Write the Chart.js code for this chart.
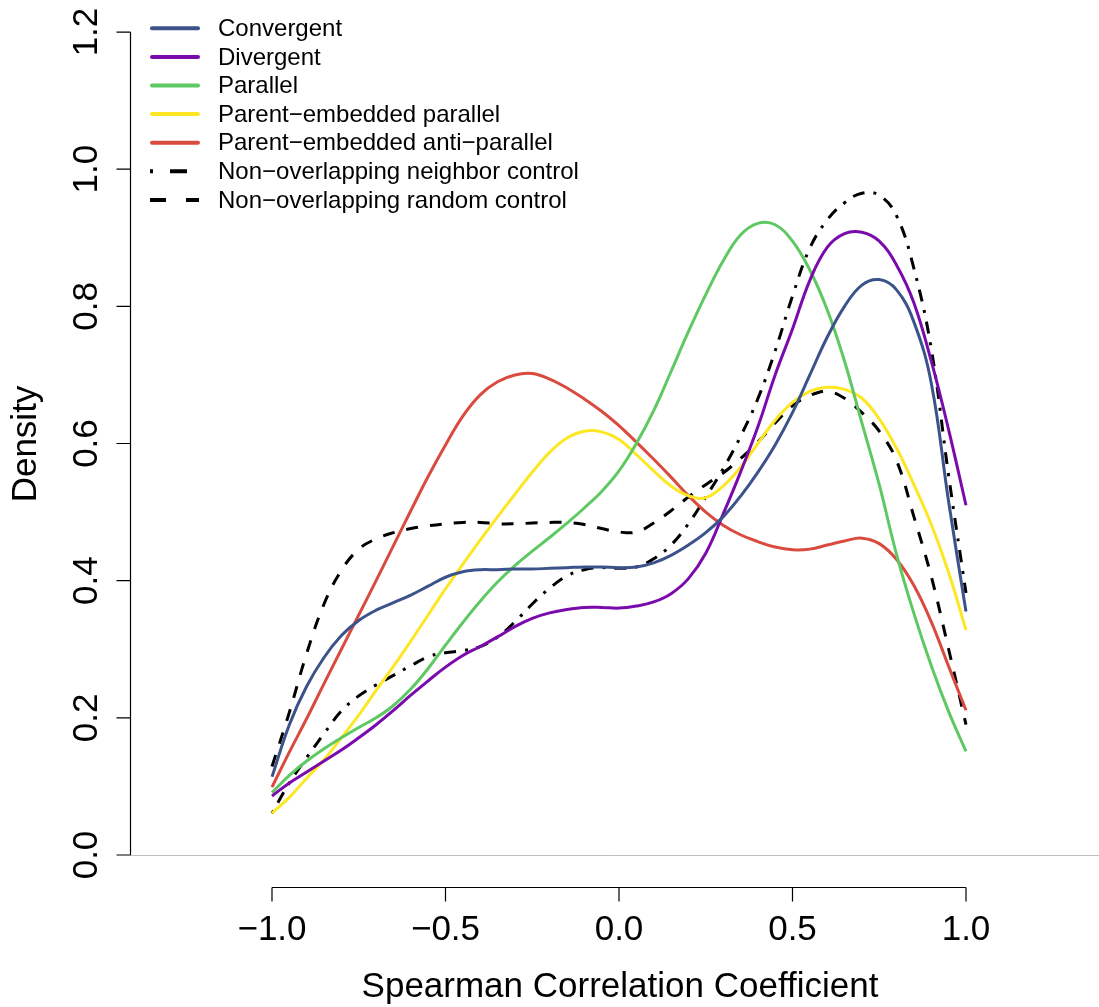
<!DOCTYPE html>
<html>
<head>
<meta charset="utf-8">
<title>Spearman correlation density</title>
<script src="https://cdn.jsdelivr.net/npm/chart.js@4.4.1/dist/chart.umd.min.js"></script>
<style>
  html, body { margin: 0; padding: 0; background: #ffffff; }
  #wrap { width: 1099px; height: 1007px; }
</style>
</head>
<body>
<div id="wrap"><canvas id="chart" width="1099" height="1007"></canvas></div>
<script>
// Evaluation grid of the Spearman coefficient (x axis)
const xGrid = [
  -1.00, -0.95, -0.90, -0.85, -0.80, -0.75, -0.70, -0.65, -0.60, -0.55,
  -0.50, -0.45, -0.40, -0.35, -0.30, -0.25, -0.20, -0.15, -0.10, -0.05,
   0.00,  0.05,  0.10,  0.15,  0.20,  0.25,  0.30,  0.35,  0.40,  0.45,
   0.50,  0.55,  0.60,  0.65,  0.70,  0.75,  0.80,  0.85,  0.90,  0.95, 1.00
];

// Kernel density estimates per gene-pair orientation
const convergent = [
  0.114, 0.190, 0.246, 0.288, 0.320, 0.342, 0.357, 0.368, 0.379, 0.392,
  0.405, 0.413, 0.416, 0.416, 0.417, 0.417, 0.418, 0.419, 0.420, 0.420,
  0.419, 0.420, 0.426, 0.437, 0.452, 0.470, 0.493, 0.523, 0.558, 0.598,
  0.645, 0.700, 0.755, 0.800, 0.831, 0.839, 0.824, 0.777, 0.688, 0.515, 0.355
];
const divergent = [
  0.086, 0.105, 0.121, 0.137, 0.153, 0.171, 0.190, 0.211, 0.233, 0.254,
  0.274, 0.291, 0.304, 0.318, 0.333, 0.345, 0.353, 0.358, 0.361, 0.361,
  0.360, 0.363, 0.369, 0.381, 0.403, 0.440, 0.497, 0.558, 0.624, 0.700,
  0.767, 0.838, 0.886, 0.906, 0.908, 0.895, 0.860, 0.805, 0.720, 0.620, 0.510
];
const parallel = [
  0.091, 0.116, 0.137, 0.155, 0.171, 0.186, 0.200, 0.218, 0.242, 0.272,
  0.306, 0.339, 0.370, 0.398, 0.422, 0.443, 0.463, 0.484, 0.506, 0.530,
  0.560, 0.600, 0.648, 0.705, 0.763, 0.817, 0.866, 0.904, 0.921, 0.919,
  0.895, 0.853, 0.795, 0.720, 0.630, 0.540, 0.438, 0.352, 0.276, 0.209, 0.151
];
const parentParallel = [
  0.061, 0.084, 0.112, 0.139, 0.171, 0.204, 0.240, 0.275, 0.312, 0.350,
  0.388, 0.424, 0.459, 0.493, 0.526, 0.558, 0.587, 0.608, 0.618, 0.617,
  0.606, 0.584, 0.560, 0.538, 0.524, 0.521, 0.538, 0.565, 0.600, 0.634,
  0.660, 0.676, 0.682, 0.679, 0.666, 0.636, 0.593, 0.540, 0.482, 0.412, 0.328
];
const parentAntiParallel = [
  0.099, 0.150, 0.199, 0.250, 0.300, 0.350, 0.400, 0.451, 0.502, 0.552,
  0.598, 0.640, 0.671, 0.690, 0.700, 0.702, 0.694, 0.681, 0.665, 0.647,
  0.626, 0.602, 0.577, 0.551, 0.524, 0.500, 0.481, 0.467, 0.457, 0.449,
  0.445, 0.446, 0.452, 0.458, 0.462, 0.454, 0.431, 0.393, 0.340, 0.275, 0.211
];
const neighborControl = [
  0.061, 0.105, 0.142, 0.177, 0.210, 0.232, 0.248, 0.262, 0.276, 0.289,
  0.295, 0.298, 0.304, 0.318, 0.340, 0.366, 0.389, 0.407, 0.416, 0.419,
  0.418, 0.420, 0.432, 0.452, 0.483, 0.522, 0.563, 0.610, 0.665, 0.735,
  0.815, 0.885, 0.926, 0.951, 0.965, 0.962, 0.932, 0.855, 0.738, 0.553, 0.382
];
const randomControl = [
  0.129, 0.208, 0.294, 0.366, 0.415, 0.446, 0.461, 0.470, 0.476, 0.480,
  0.483, 0.485, 0.485, 0.483, 0.483, 0.484, 0.485, 0.485, 0.482, 0.476,
  0.471, 0.471, 0.484, 0.502, 0.522, 0.540, 0.557, 0.578, 0.602, 0.630,
  0.655, 0.670, 0.676, 0.666, 0.645, 0.618, 0.575, 0.493, 0.406, 0.300, 0.190
];

const seriesLabels = [
  'Convergent', 'Divergent', 'Parallel', 'Parent\u2212embedded parallel',
  'Parent\u2212embedded anti\u2212parallel', 'Non\u2212overlapping neighbor control',
  'Non\u2212overlapping random control'
];
const seriesValues = [convergent, divergent, parallel, parentParallel,
  parentAntiParallel, neighborControl, randomControl];
const seriesColors = ['#3B528B', '#7A0AAB', '#5EC962', '#FDE725', '#D94B3F', '#000000', '#000000'];
const seriesDashes = [[], [], [], [], [], [3, 9, 12, 9], [12, 12]];
const legendDashes = [[], [], [], [], [], [3, 17, 17, 20], [16, 20]];

const xTickValues = [-1.0, -0.5, 0.0, 0.5, 1.0];
const xTickLabels = ['\u22121.0', '\u22120.5', '0.0', '0.5', '1.0'];
const yTickValues = [0.0, 0.2, 0.4, 0.6, 0.8, 1.0, 1.2];
const yTickLabels = ['0.0', '0.2', '0.4', '0.6', '0.8', '1.0', '1.2'];
const xTitle = 'Spearman Correlation Coefficient';
const yTitle = 'Density';

const FONT = '"Liberation Sans", Arial, Helvetica, sans-serif';

const datasets = seriesValues.map((vals, i) => ({
  label: seriesLabels[i],
  data: xGrid.map((x, j) => ({ x: x, y: vals[j] })),
  borderColor: seriesColors[i],
  borderWidth: 3,
  borderDash: seriesDashes[i],
  borderCapStyle: 'butt',
  pointRadius: 0,
  fill: false,
  tension: 0.4
}));

// Base-graphics style axes, zero line and legend
const rAxes = {
  id: 'rAxes',
  beforeDatasetsDraw(chart) {
    const { ctx, chartArea, scales } = chart;
    const y0 = scales.y.getPixelForValue(0);
    ctx.save();
    ctx.strokeStyle = '#BEBEBE';
    ctx.lineWidth = 1;
    ctx.beginPath();
    ctx.moveTo(chartArea.left, Math.round(y0) + 0.5);
    ctx.lineTo(chartArea.right, Math.round(y0) + 0.5);
    ctx.stroke();
    ctx.restore();
  },
  afterDraw(chart) {
    const { ctx, chartArea, scales } = chart;
    const xs = scales.x, ys = scales.y;
    ctx.save();
    ctx.strokeStyle = '#000000';
    ctx.fillStyle = '#000000';
    ctx.lineWidth = 1.2;

    // y axis
    const ax = chartArea.left + 0.5;
    const yTop = ys.getPixelForValue(yTickValues[yTickValues.length - 1]);
    const yBot = ys.getPixelForValue(yTickValues[0]);
    ctx.beginPath();
    ctx.moveTo(ax, yTop);
    ctx.lineTo(ax, yBot);
    yTickValues.forEach(v => {
      const p = ys.getPixelForValue(v);
      ctx.moveTo(ax, p);
      ctx.lineTo(ax - 14, p);
    });
    ctx.stroke();
    ctx.font = '35px ' + FONT;
    ctx.textAlign = 'center';
    ctx.textBaseline = 'alphabetic';
    yTickValues.forEach((v, i) => {
      const p = ys.getPixelForValue(v);
      ctx.save();
      ctx.translate(97, p);
      ctx.rotate(-Math.PI / 2);
      ctx.fillText(yTickLabels[i], 0, 0);
      ctx.restore();
    });

    // x axis along the bottom of the plot region
    const by = chartArea.bottom - 0.5;
    const xL = xs.getPixelForValue(xTickValues[0]);
    const xR = xs.getPixelForValue(xTickValues[xTickValues.length - 1]);
    ctx.beginPath();
    ctx.moveTo(xL, by);
    ctx.lineTo(xR, by);
    xTickValues.forEach(v => {
      const p = xs.getPixelForValue(v);
      ctx.moveTo(p, by);
      ctx.lineTo(p, by + 14);
    });
    ctx.stroke();
    xTickValues.forEach((v, i) => {
      ctx.fillText(xTickLabels[i], xs.getPixelForValue(v), 940);
    });

    // axis titles
    ctx.fillText(xTitle, xs.getPixelForValue(0) + 1, 997);
    ctx.save();
    ctx.translate(36, (chartArea.top + chartArea.bottom) / 2);
    ctx.rotate(-Math.PI / 2);
    ctx.fillText(yTitle, 0, 0);
    ctx.restore();

    // legend
    const lx0 = 151, lx1 = 199, tx = 218, rowTop = 28.3, rowGap = 28.6;
    ctx.font = '24px ' + FONT;
    ctx.textAlign = 'left';
    ctx.textBaseline = 'middle';
    seriesLabels.forEach((label, i) => {
      const yy = rowTop + i * rowGap;
      ctx.save();
      ctx.strokeStyle = seriesColors[i];
      ctx.lineWidth = 4;
      const dashed = legendDashes[i].length > 0;
      ctx.lineCap = dashed ? 'butt' : 'round';
      ctx.setLineDash(legendDashes[i]);
      ctx.beginPath();
      ctx.moveTo(dashed ? lx0 - 1 : lx0 + 1, yy);
      ctx.lineTo(dashed ? lx1 : lx1 - 1, yy);
      ctx.stroke();
      ctx.restore();
      ctx.fillText(label, tx, yy + 1);
    });
    ctx.restore();
  }
};

new Chart(document.getElementById('chart'), {
  type: 'line',
  data: { datasets: datasets },
  options: {
    responsive: false,
    devicePixelRatio: 1,
    animation: false,
    layout: { padding: { left: 130, top: 0, right: 0, bottom: 119 } },
    scales: {
      x: { type: 'linear', min: -1.4092, max: 1.3833, display: false },
      y: { type: 'linear', min: -0.0481, max: 1.2467, display: false }
    },
    plugins: {
      legend: { display: false },
      tooltip: { enabled: false }
    }
  },
  plugins: [rAxes]
});
</script>
</body>
</html>
